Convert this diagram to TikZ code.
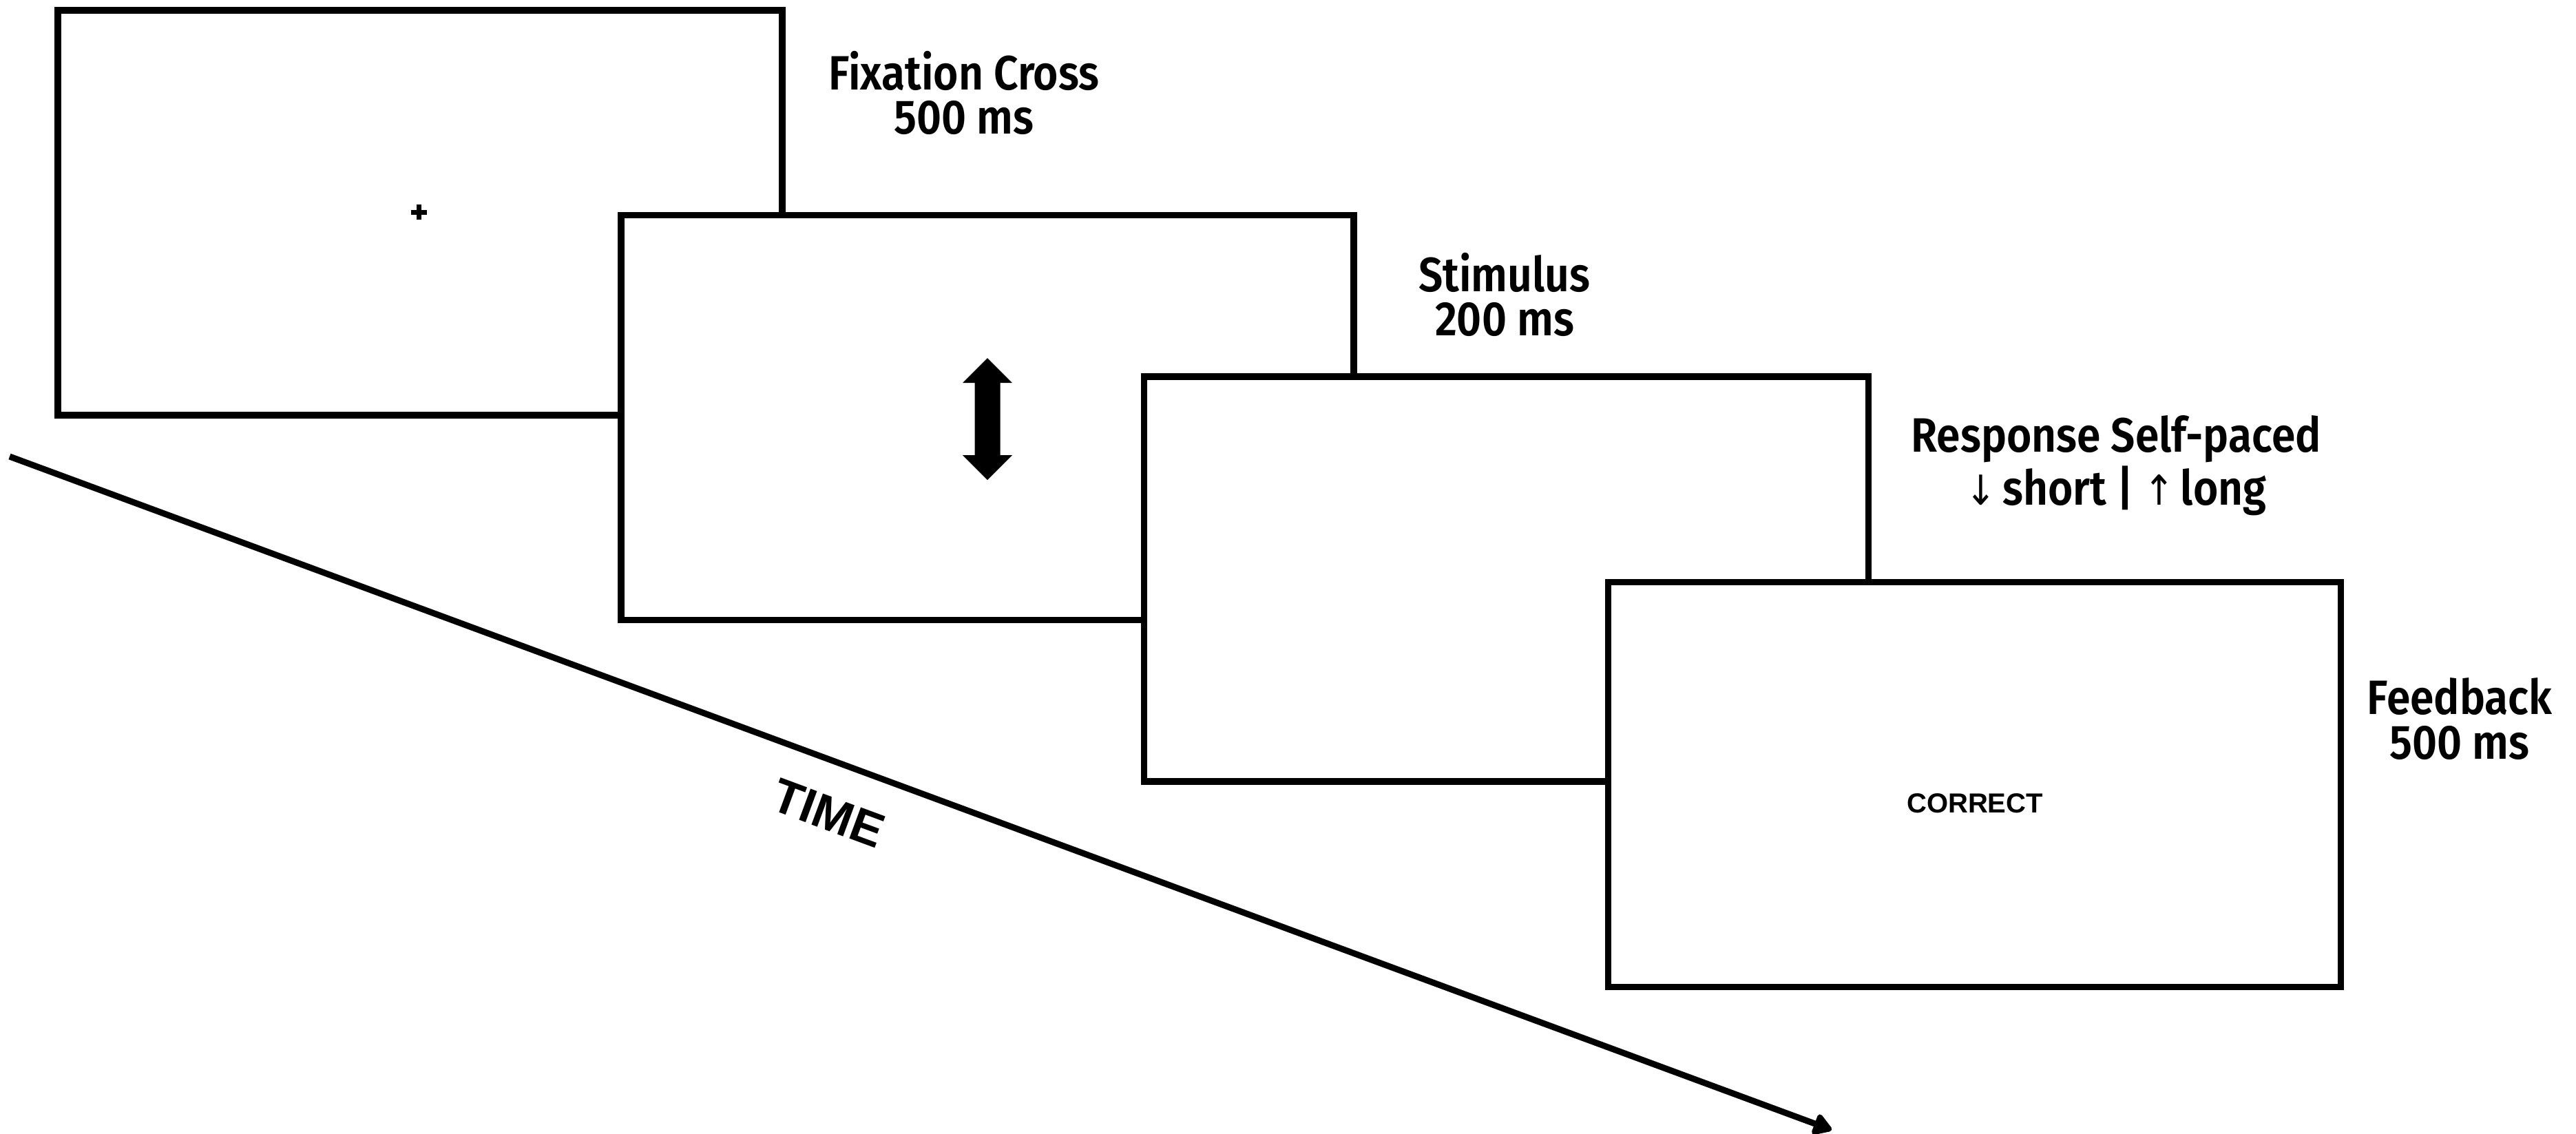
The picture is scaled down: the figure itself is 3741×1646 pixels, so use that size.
\documentclass[tikz,border=0pt]{standalone}
\usepackage{fontspec}
\setmainfont{Fira Sans}[BoldFont={Fira Sans SemiBold}]
\newfontfamily\symfont{DejaVu Sans}
\newfontfamily\arialfont{Liberation Sans}
\usetikzlibrary{arrows.meta}
\begin{document}
\begin{tikzpicture}[x=0.2pt,y=-0.2pt,
  screen/.style={draw=black,line width=1.9pt,fill=white,minimum width=210.4pt,minimum height=117.6pt,inner sep=0pt,outer sep=0pt},
  widescreen/.style={screen,minimum width=212.8pt},
  lbl/.style={font=\fontsize{14}{12.9}\selectfont\bfseries,align=center,inner sep=0pt,xscale=0.89},
  small/.style={font=\arialfont\fontsize{8}{10}\selectfont\bfseries,inner sep=0pt},
  timelbl/.style={font=\arialfont\fontsize{14}{14}\selectfont\bfseries,inner sep=0pt},
]
\useasboundingbox (0,0) rectangle (3741,1646);
\fill[white] (0,0) rectangle (3741,1646);
% screens
\node[screen] (s1) at (610,309) {};
\fill (597,304.5) rectangle (620,311.5);
\fill (605,297) rectangle (612,319);
\node[widescreen] (s2) at (1434,606.5) {};
\fill (1434,520) -- (1470,556) -- (1452.5,556) -- (1452.5,661) -- (1470,661) -- (1434,697)
  -- (1398,661) -- (1415.5,661) -- (1415.5,556) -- (1398,556) -- cycle;
\node[screen] (s3) at (2187.5,841) {};
\node[widescreen] (s4) at (2867.5,1139.5) {};
\node[small] (fbtext) at (2868,1167) {CORRECT};
% labels
\node[lbl] (l1) at (1400,135) {Fixation Cross\\500 ms};
\node[lbl] (l2) at (2185,428) {Stimulus\\200 ms};
\node[lbl] (l3) at (3073,676) {Response Self-paced\\{\symfont\mdseries\fontsize{12}{10}\selectfont ↓}\hspace{2pt}short | {\symfont\mdseries\fontsize{12}{10}\selectfont ↑}\hspace{2pt}long};
\node[lbl] (l4) at (3572,1044) {Feedback\\500 ms};
% time axis
\coordinate (t0) at (14,663);
\coordinate (t1) at (2660,1641);
\draw[line width=1.8pt,-{Triangle[length=6pt,width=7pt,round]}] (t0) -- (t1);
\node[timelbl,rotate=-20.3] (time) at (1203,1181) {TIME};
\end{tikzpicture}
\end{document}
